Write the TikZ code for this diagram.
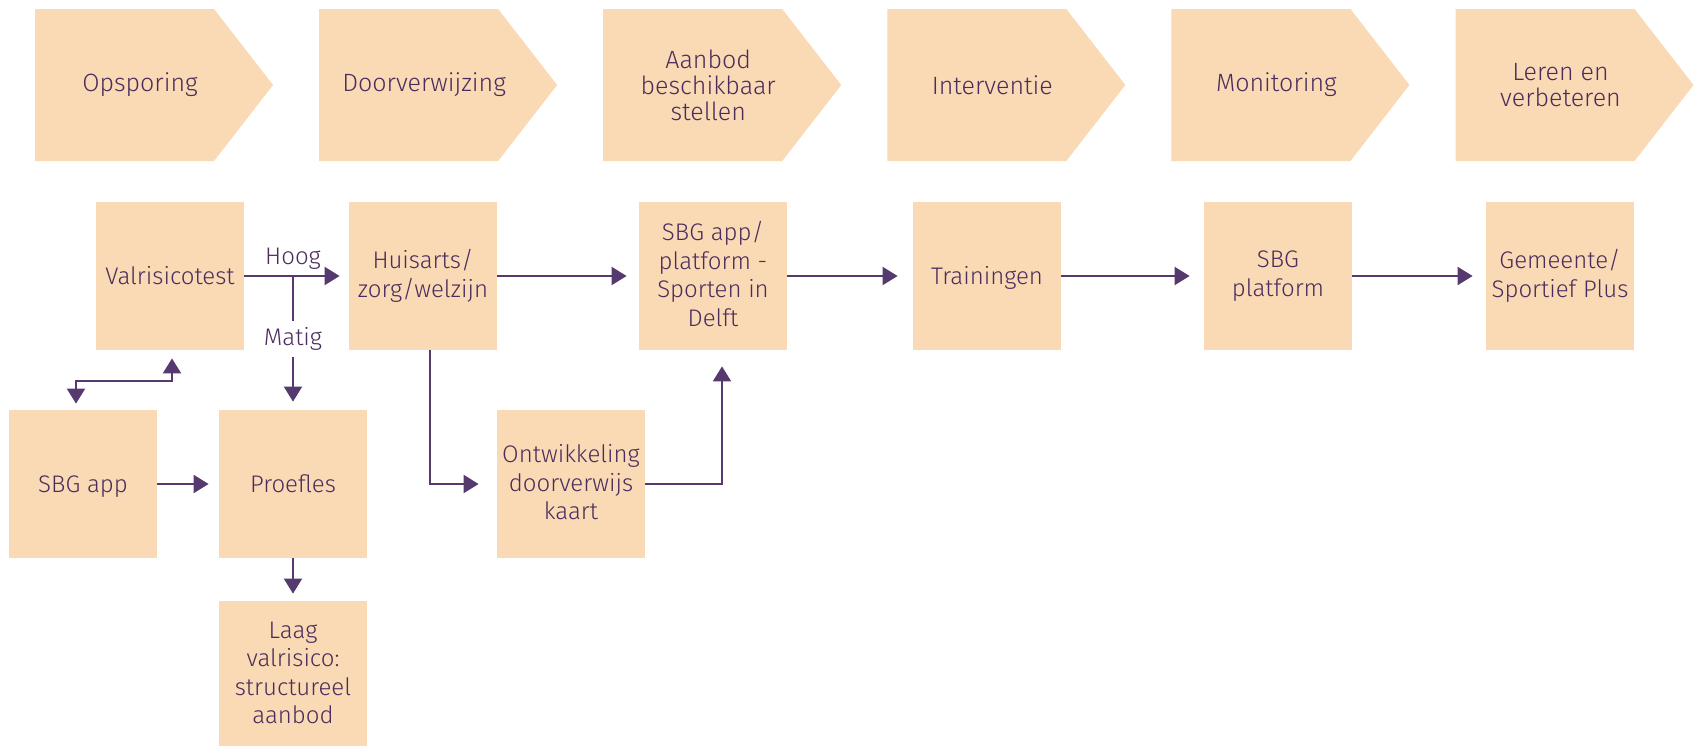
\documentclass[tikz,border=0pt]{standalone}
\usepackage{fontspec}
\setmainfont{Fira Sans}[UprightFont=* Light]
\usetikzlibrary{arrows.meta,calc}
\definecolor{peach}{HTML}{FAD9B5}
\definecolor{plum}{HTML}{56396F}
\definecolor{ink}{HTML}{4A2D5C}
\newcommand\boxstrut{\rule[-2pt]{0pt}{12.5pt}}
\begin{document}
\begin{tikzpicture}[x=0.5pt,y=-0.5pt,
  box/.style={fill=peach, minimum width=74pt, minimum height=74pt, inner sep=0pt, align=center, font=\fontsize{12}{14.25}\selectfont, text=ink, execute at begin node=\boxstrut, execute at end node=\boxstrut},
  chevtext/.style={align=center, inner sep=0pt, font=\fontsize{12.5}{13}\selectfont, text=ink},
  conn/.style={draw=plum, line width=1pt, -{Triangle[length=7.5pt,width=9pt]}},
  biconn/.style={draw=plum, line width=1pt, {Triangle[length=7.5pt,width=9pt]}-{Triangle[length=7.5pt,width=9pt]}},
  plain/.style={draw=plum, line width=1pt},
  lbl/.style={font=\fontsize{12}{14}\selectfont, text=ink, inner sep=0pt}]
\useasboundingbox (0,0) rectangle (1703,745);
\fill[white] (0,0) rectangle (1703,745);
% chevrons
\foreach \i/\t in {0/{Opsporing},1/{Doorverwijzing},2/{Aanbod\\beschikbaar\\stellen},3/{Interventie},4/{Monitoring},5/{Leren en\\verbeteren}}{
  \pgfmathsetmacro\l{35+284.1*\i}
  \fill[peach] (\l,9) -- (\l+179,9) -- (\l+238,85) -- (\l+179,161) -- (\l,161) -- cycle;
  \node[chevtext] (chev\i) at (\l+105,85) {\t};
}
% boxes
\node[box] (valri) at (170,276) {Valrisicotest};
\node[box] (huis) at (423,276) {Huisarts/\\zorg/welzijn};
\node[box] (sbgp) at (713,276) {SBG app/\\platform -\\Sporten in\\Delft};
\node[box] (train) at (987,276) {Trainingen};
\node[box] (sbgpl) at (1278,276) {SBG\\platform};
\node[box] (gem) at (1560,276) {Gemeente/\\Sportief Plus};
\node[box] (sbgapp) at (83,484) {SBG app};
\node[box] (proef) at (293,484) {Proefles};
\node[box] (ontw) at (571,484) {Ontwikkeling\\doorverwijs\\kaart};
\node[box] (laag) at (293,675) {Laag\\valrisico:\\structureel\\aanbod};
% connectors
\coordinate (hb) at (proef.north |- valri.east);
\draw[conn, shorten >=4.5pt] (valri.east) -- (huis.west);
\node[lbl, anchor=south, yshift=3pt] (hoog) at (hb) {Hoog};
\node[lbl, fill=white, inner sep=3pt] (matig) at (293,339) {Matig};
\draw[plain] (hb) -- (matig.north);
\draw[conn, shorten >=4pt] (matig.south) -- (proef.north);
\draw[conn, shorten >=6pt] (huis.east) -- (sbgp.west);
\draw[conn, shorten >=7.5pt] (sbgp.east) -- (train.west);
\draw[conn, shorten >=7pt] (train.east) -- (sbgpl.west);
\draw[conn, shorten >=6.5pt] (sbgpl.east) -- (gem.west);
\draw[conn, shorten >=5pt] (sbgapp.east) -- (proef.west);
\draw[conn, shorten >=3.5pt] (proef.south) -- (laag.north);
\draw[conn, shorten >=9pt] ([xshift=3.5pt]huis.south) |- (ontw.west);
\draw[conn, shorten >=8pt] (ontw.east) -| ([xshift=4.5pt]sbgp.south);
\draw[biconn, shorten <=3pt, shorten >=4pt] ([xshift=-3.5pt]sbgapp.north) -- ++(0,-29) -| ([xshift=1pt]valri.south);
\end{tikzpicture}
\end{document}
